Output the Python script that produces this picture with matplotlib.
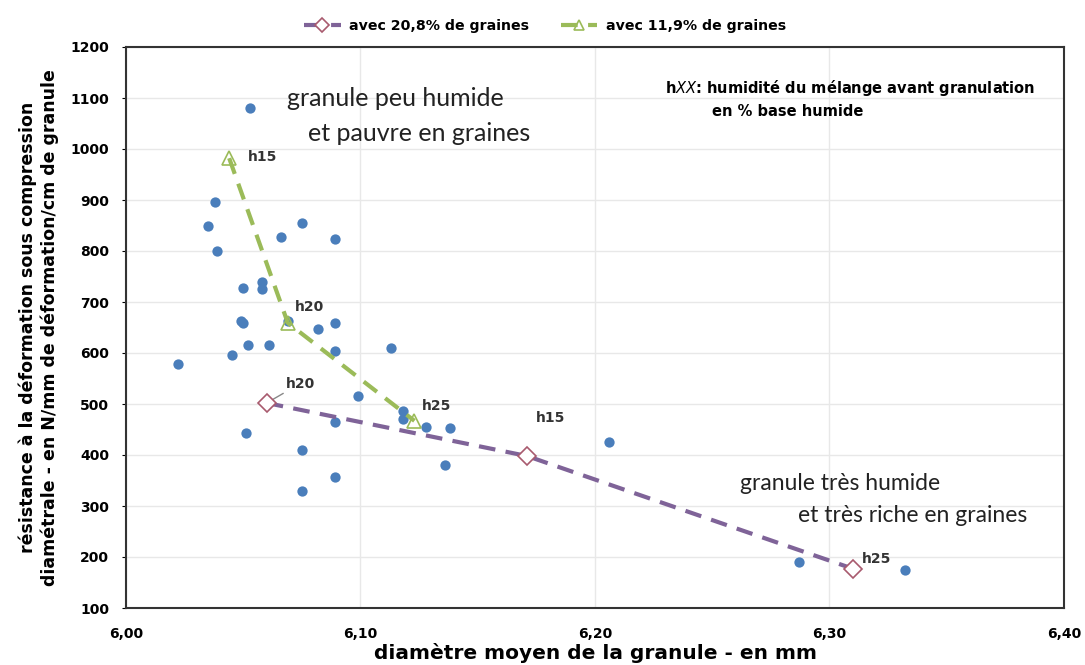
import matplotlib.pyplot as plt

# nuage de points (tous les essais)
pts_x = [6.053, 6.038, 6.035, 6.039, 6.066, 6.075, 6.089, 6.050, 6.058, 6.058,
         6.049, 6.050, 6.069, 6.082, 6.089, 6.052, 6.061, 6.045, 6.022, 6.089,
         6.113, 6.099, 6.118, 6.118, 6.089, 6.128, 6.138, 6.051, 6.075, 6.136,
         6.089, 6.075, 6.206, 6.287, 6.332]
pts_y = [1080, 896, 849, 800, 827, 855, 823, 727, 739, 725,
         663, 658, 662, 647, 659, 616, 616, 596, 578, 604,
         610, 516, 486, 471, 465, 455, 453, 443, 410, 380,
         357, 329, 425, 190, 174]

# avec 20,8% de graines
s1_x = [6.060, 6.171, 6.310]
s1_y = [502, 398, 177]
s1_lab = ["h20", "h15", "h25"]

# avec 11,9% de graines
s2_x = [6.044, 6.069, 6.123]
s2_y = [982, 659, 467]
s2_lab = ["h15", "h20", "h25"]

x_ticks = [6.00, 6.10, 6.20, 6.30, 6.40]
y_ticks = [100, 200, 300, 400, 500, 600, 700, 800, 900, 1000, 1100, 1200]

fig = plt.figure(figsize=(10.85, 6.65), dpi=100)
ax = fig.add_axes([126 / 1085, 57 / 665, (1064 - 126) / 1085, (608 - 47) / 665])

ax.scatter(pts_x, pts_y, s=55, color="#4A7EBB", zorder=3, linewidths=0)

l1, = ax.plot(s1_x, s1_y, color="#7F6398", lw=3, dashes=(4, 2.5),
              marker="D", ms=9, mfc="white", mec="#A85A6E", mew=1.2, zorder=4,
              label="avec 20,8% de graines")
l2, = ax.plot(s2_x, s2_y, color="#9BBB59", lw=3, dashes=(4, 2.5),
              marker="^", ms=10.5, mfc="none", mec="#9BBB59", mew=1.2, zorder=4,
              label="avec 11,9% de graines")

lab_kw = dict(fontsize=10, fontweight="bold", color="#333333")
# étiquettes série 20,8%
ax.annotate(s1_lab[0], xy=(s1_x[0], s1_y[0]), xytext=(6.068, 540),
            va="center", ha="left", arrowprops=dict(arrowstyle="-", color="#888888", lw=1,
                                                   shrinkA=0, shrinkB=4), **lab_kw)
ax.text(s1_x[1] + 0.004, s1_y[1] + 75, s1_lab[1], va="center", ha="left", **lab_kw)
ax.text(s1_x[2] + 0.004, s1_y[2] + 20, s1_lab[2], va="center", ha="left", **lab_kw)
# étiquettes série 11,9%
ax.text(s2_x[0] + 0.008, s2_y[0] + 2, s2_lab[0], va="center", ha="left", **lab_kw)
ax.text(s2_x[1] + 0.003, s2_y[1] + 32, s2_lab[1], va="center", ha="left", **lab_kw)
ax.text(s2_x[2] + 0.003, s2_y[2] + 30, s2_lab[2], va="center", ha="left", **lab_kw)

txt_kw = dict(family="Lato", color="#222222", va="center")
ax.text(6.0685, 1100, "granule peu humide", fontsize=18, **txt_kw)
ax.text(6.0775, 1031, "et pauvre en graines", fontsize=18, **txt_kw)
ax.text(6.262, 345, "granule très humide", fontsize=16.5, **txt_kw)
ax.text(6.2865, 282, "et très riche en graines", fontsize=16.5, **txt_kw)

ax.text(6.230, 1120, r"h$\bf\it{XX}$: humidité du mélange avant granulation",
        fontsize=10.5, fontweight="bold", va="center")
ax.text(6.250, 1073, "en % base humide", fontsize=10.5, fontweight="bold", va="center")

ax.set_xlim(6.0, 6.4)
ax.set_ylim(100, 1200)
ax.set_xticks(x_ticks)
ax.set_xticklabels([f"{v:.2f}".replace(".", ",") for v in x_ticks],
                   fontweight="bold", fontsize=10)
ax.set_yticks(y_ticks)
ax.set_yticklabels([str(v) for v in y_ticks], fontweight="bold", fontsize=10)
ax.tick_params(axis="x", length=0, pad=14)
ax.tick_params(axis="y", length=3, pad=9)
ax.grid(True, color="#E8E8E8", lw=1)
ax.set_axisbelow(True)
for sp in ax.spines.values():
    sp.set_color("#333333")
    sp.set_linewidth(1.5)

ax.set_xlabel("diamètre moyen de la granule - en mm", fontsize=14.5,
              fontweight="bold", labelpad=1)
ax.set_ylabel("résistance à la déformation sous compression\n"
              "diamétrale - en N/mm de déformation/cm de granule",
              fontsize=12.5, fontweight="bold", labelpad=8, linespacing=1.3)

fig.legend(handles=[l1, l2], loc="center", bbox_to_anchor=(545 / 1085, 1 - 26 / 665),
           ncol=2, frameon=False, prop=dict(weight="bold", size=10.2),
           handlelength=2.6, handletextpad=0.6, columnspacing=2.2, markerscale=0.75)

fig.savefig("out.png", dpi=100)
